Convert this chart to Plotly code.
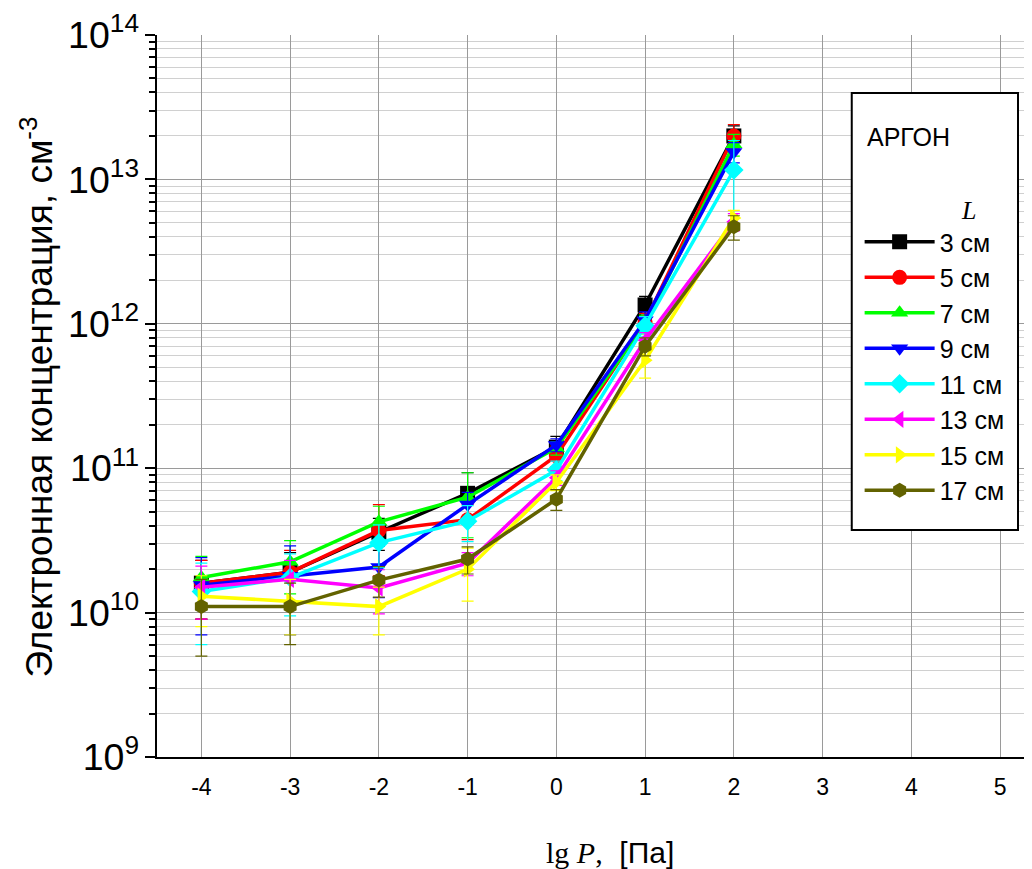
import plotly.graph_objects as go

lgP = [-4, -3, -2, -1, 0, 1, 2]
labels = ["3 см", "5 см", "7 см", "9 см", "11 см", "13 см", "15 см", "17 см"]
x_ticks = [-4, -3, -2, -1, 0, 1, 2, 3, 4, 5]
x_ticktext = ["-4", "-3", "-2", "-1", "0", "1", "2", "3", "4", "5"]

n3 = [1.6e10, 1.9e10, 3.6e10, 6.7e10, 1.40e11, 1.35e12, 2.0e13]
n5 = [1.6e10, 1.9e10, 3.7e10, 4.4e10, 1.22e11, 1.03e12, 2.0e13]
n7 = [1.75e10, 2.25e10, 4.25e10, 6.3e10, 1.38e11, 1.0e12, 1.75e13]
n9 = [1.55e10, 1.8e10, 2.07e10, 5.6e10, 1.45e11, 1.06e12, 1.55e13]
n11 = [1.4e10, 1.75e10, 3.05e10, 4.3e10, 9.7e10, 9.7e11, 1.16e13]
n13 = [1.5e10, 1.7e10, 1.48e10, 2.2e10, 8.6e10, 7.7e11, 5.1e12]
n15 = [1.3e10, 1.2e10, 1.1e10, 2.0e10, 8.0e10, 5.6e11, 5.4e12]
n17 = [1.1e10, 1.1e10, 1.68e10, 2.35e10, 6.1e10, 7.0e11, 4.7e12]

e3 = [7e9, 7e9, 9e9, 2.6e10, 2.6e10, 2e11, 3.5e12]
e5 = [7e9, 8e9, 1.9e10, 1.2e10, 2e10, 1.5e11, 4e12]
e7 = [7e9, 9e9, 1.2e10, 3e10, 1.5e10, 1.5e11, 3e12]
e9 = [8.5e9, 1.1e10, 8e9, 1.2e10, 1.5e10, 1.5e11, 2.5e12]
e11 = [8e9, 8e9, 1e10, 1.2e10, 1.5e10, 1.5e11, 7e12]
e13 = [6e9, 6e9, 5e9, 4e9, 1e10, 1e11, 7e11]
e15 = [5e9, 5e9, 4e9, 8e9, 1e10, 1.4e11, 7e11]
e17 = [6e9, 5e9, 4e9, 5e9, 1e10, 1e11, 9e11]

series = [n3, n5, n7, n9, n11, n13, n15, n17]
errors = [e3, e5, e7, e9, e11, e13, e15, e17]
colors = ["#000000", "#FF0000", "#00FF00", "#0000FF", "#00FFFF", "#FF00FF", "#FFFF00", "#626200"]
symbols = ["square", "circle", "triangle-up", "triangle-down", "diamond",
           "triangle-left", "triangle-right", "hexagon"]

fig = go.Figure()
for i, (ys, es) in enumerate(zip(series, errors)):
    fig.add_trace(go.Scatter(
        x=lgP, y=ys, name=labels[i], mode="lines+markers",
        line=dict(color=colors[i], width=3.5),
        marker=dict(symbol=symbols[i], size=15, color=colors[i]),
        error_y=dict(type="data", array=es, visible=True, color=colors[i],
                     thickness=1.2, width=6),
        legendgroup=f"g{i}",
    ))

# page body has an 8px default margin: the figure is offset by it
fig.update_layout(
    width=1024, height=861,
    margin=dict(l=149, r=0, t=27, b=112),
    paper_bgcolor="white", plot_bgcolor="white",
    font=dict(family="Liberation Sans, Arial", color="black"),
    showlegend=True,
    legend=dict(x=0.803, y=0.745, xanchor="left", yanchor="top",
                bgcolor="rgba(0,0,0,0)", borderwidth=0,
                font=dict(size=25, family="Liberation Sans, Arial"),
                itemwidth=70, tracegroupgap=0),
    xaxis=dict(range=[-4.5, 5.36], tickvals=x_ticks, ticktext=x_ticktext,
               showgrid=True, gridcolor="#9a9a9a", automargin=False,
               gridwidth=1, zeroline=False, showline=True, linecolor="black",
               linewidth=2, ticks="", tickfont=dict(size=23), ticklabelstandoff=8),
    yaxis=dict(type="log", range=[9, 14], dtick=1, exponentformat="power",
               showgrid=True, gridcolor="#9a9a9a", gridwidth=1, automargin=False,
               zeroline=False, showline=True, linecolor="black", linewidth=2,
               ticks="outside", ticklen=10, tickwidth=2, tickcolor="black",
               tickfont=dict(size=30), ticklabeloverflow="allow",
               minor=dict(dtick="D1", ticks="outside", ticklen=6, tickwidth=2,
                          tickcolor="black", showgrid=True, gridcolor="#d0d0d0",
                          gridwidth=1)),
    shapes=[dict(type="rect", xref="paper", yref="paper",
                 x0=0.794, x1=0.984, y0=0.3144, y1=0.9197,
                 line=dict(color="black", width=2), fillcolor="white", layer="above")],
    annotations=[
        dict(text="АРГОН", xref="paper", yref="paper", x=0.809, y=0.8587,
             xanchor="left", yanchor="middle", showarrow=False,
             font=dict(size=25)),
        dict(text="<i>L</i>", xref="paper", yref="paper", x=0.927, y=0.7576,
             xanchor="center", yanchor="middle", showarrow=False,
             font=dict(size=26, family="Liberation Serif, Times New Roman")),
        dict(text="Электронная концентрация, см<sup>-3</sup>", xref="paper", yref="paper",
             x=-0.137, y=0.498, xanchor="center", yanchor="middle", textangle=-90,
             showarrow=False, font=dict(size=37)),
        dict(text="<span style='font-family:Liberation Serif'>lg <i>P</i>,</span>  [Па]",
             xref="paper", yref="paper", x=0.518, y=-0.1316,
             xanchor="center", yanchor="middle", showarrow=False,
             font=dict(size=30)),
    ],
)

fig.write_html("out.html")
